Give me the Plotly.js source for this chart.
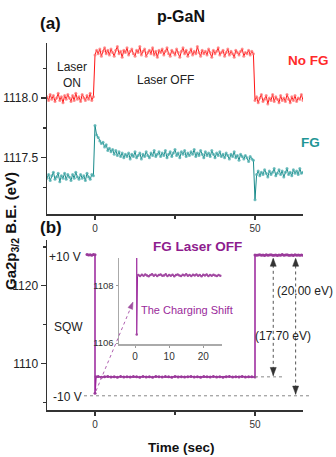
<!DOCTYPE html>
<html>
<head>
<meta charset="utf-8">
<script src="https://cdn.plot.ly/plotly-3.0.1.min.js"></script>
<style>html,body{margin:0;padding:0;background:#fff;}#chart{width:336px;height:457px;}</style>
</head>
<body>
<div id="chart"></div>
<script>
// ---------- data ----------
// Panel (a): sampling grid starts at -15 s, every 0.5 s
const sampleStartA = -15, sampleStepA = 0.5;

// No FG (red)
const redLaserOn = [1118.01,1117.98,1118.03,1117.99,1118.02,1117.97,1118.00,1118.04,1117.98,1118.01,
  1117.96,1118.02,1117.99,1118.03,1118.00,1117.97,1118.02,1117.98,1118.04,1117.99,
  1118.01,1117.97,1118.03,1118.00,1117.98,1118.02,1117.99,1118.04,1117.98,1118.01];
const redLaserOff = [1118.36,1118.40,1118.37,1118.41,1118.35,1118.39,1118.42,1118.37,1118.40,1118.36,
  1118.41,1118.38,1118.35,1118.40,1118.43,1118.37,1118.39,1118.34,1118.40,1118.38,
  1118.42,1118.36,1118.39,1118.41,1118.37,1118.35,1118.40,1118.38,1118.43,1118.36,
  1118.39,1118.41,1118.35,1118.38,1118.40,1118.37,1118.42,1118.36,1118.39,1118.34,
  1118.40,1118.38,1118.41,1118.36,1118.39,1118.42,1118.37,1118.35,1118.40,1118.38,
  1118.36,1118.41,1118.38,1118.34,1118.39,1118.42,1118.37,1118.40,1118.35,1118.38,
  1118.41,1118.36,1118.39,1118.37,1118.43,1118.38,1118.35,1118.40,1118.37,1118.39,
  1118.36,1118.41,1118.38,1118.34,1118.40,1118.37,1118.39,1118.42,1118.36,1118.38,
  1118.40,1118.35,1118.38,1118.41,1118.36,1118.39,1118.37,1118.34,1118.40,1118.38,
  1118.36,1118.39,1118.41,1118.35,1118.38,1118.37,1118.40,1118.36,1118.39,1118.37];
const redLaserOnAgain = [1117.98,1118.01,1117.96,1118.00,1118.03,1117.97,1117.99,1118.02,1117.95,1118.00,
  1117.98,1118.03,1117.97,1118.01,1117.99,1117.96,1118.02,1117.98,1118.00,1117.97,
  1118.03,1117.99,1117.96,1118.01,1117.98,1118.02,1117.97,1118.00,1117.99,1118.03,1117.98];

// FG (teal)
const tealLaserOn = [1117.33,1117.36,1117.31,1117.35,1117.38,1117.32,1117.34,1117.37,1117.30,1117.35,
  1117.33,1117.37,1117.32,1117.36,1117.34,1117.31,1117.36,1117.33,1117.38,1117.34,
  1117.32,1117.36,1117.33,1117.35,1117.31,1117.37,1117.34,1117.32,1117.36,1117.35];
const tealLaserOff = [1117.77,1117.69,1117.67,1117.64,1117.62,1117.63,1117.59,1117.61,1117.56,1117.58,
  1117.55,1117.57,1117.53,1117.56,1117.52,1117.55,1117.51,1117.54,1117.50,1117.53,
  1117.51,1117.54,1117.49,1117.53,1117.51,1117.55,1117.50,1117.52,1117.54,1117.49,
  1117.53,1117.51,1117.55,1117.52,1117.50,1117.54,1117.52,1117.56,1117.51,1117.53,
  1117.55,1117.51,1117.54,1117.52,1117.56,1117.50,1117.53,1117.55,1117.51,1117.54,
  1117.57,1117.52,1117.54,1117.50,1117.55,1117.53,1117.56,1117.51,1117.54,1117.52,
  1117.55,1117.53,1117.57,1117.51,1117.54,1117.52,1117.56,1117.53,1117.50,1117.55,
  1117.52,1117.54,1117.51,1117.56,1117.53,1117.50,1117.54,1117.52,1117.55,1117.51,
  1117.53,1117.50,1117.54,1117.52,1117.49,1117.53,1117.51,1117.55,1117.50,1117.52,
  1117.48,1117.53,1117.51,1117.49,1117.52,1117.50,1117.47,1117.51,1117.49,1117.48];
const tealLaserOnAgain = [1117.15,1117.36,1117.39,1117.35,1117.38,1117.36,1117.40,1117.37,1117.34,1117.39,
  1117.36,1117.38,1117.41,1117.35,1117.37,1117.40,1117.36,1117.39,1117.34,1117.38,
  1117.41,1117.36,1117.38,1117.35,1117.40,1117.37,1117.39,1117.36,1117.41,1117.37,1117.38];

// Panel (b): FG laser OFF with square wave (purple)
const purplePlusT = [-2.5,-2,-1.5,-1,-0.5,0];
const purplePlus = [1124.02,1123.97,1124.00,1123.95,1124.03,1123.99];
const purpleSwitchT = [0,0.3];
const purpleSwitch = [1106.15,1108.27];
const purpleMinusT = [1,2,3,4,5,6,7,8,9,10,11,12,13,14,15,16,17,18,19,20,21,22,23,24,25,
  26,27,28,29,30,31,32,33,34,35,36,37,38,39,40,41,42,43,44,45,46,47,48,49,50];
const purpleMinus = [1108.30,1108.22,1108.28,1108.33,1108.25,1108.29,1108.21,1108.31,1108.26,1108.28,
  1108.24,1108.32,1108.27,1108.23,1108.30,1108.26,1108.29,1108.22,1108.31,1108.27,
  1108.25,1108.30,1108.28,1108.23,1108.32,1108.26,1108.29,1108.24,1108.28,1108.31,
  1108.25,1108.27,1108.22,1108.30,1108.28,1108.24,1108.31,1108.26,1108.29,1108.23,
  1108.27,1108.32,1108.25,1108.28,1108.24,1108.30,1108.26,1108.29,1108.27,1108.26];
const purplePlusAgainStart = 50, purplePlusAgainStep = 0.5;
const purplePlusAgain = [1123.98,1123.92,1123.96,1124.01,1123.93,1123.97,1123.90,1123.99,1123.94,1123.96,
  1124.00,1123.92,1123.95,1123.98,1123.91,1123.97,1123.94,1124.02,1123.93,1123.96,
  1123.99,1123.92,1123.95,1123.97,1123.91,1124.00,1123.94,1123.96,1123.93,1123.98,1123.95];

// Inset: the charging shift
const insetSwitchT = [0.5,0.5,0.7];
const insetSwitch = [1124.0,1106.3,1108.36];
const insetStart = 1, insetStep = 0.5;
const insetVals = [1108.37,1108.34,1108.38,1108.35,1108.39,1108.36,1108.33,1108.37,1108.40,1108.35,
  1108.38,1108.34,1108.37,1108.39,1108.35,1108.36,1108.40,1108.34,1108.37,1108.35,
  1108.38,1108.33,1108.37,1108.39,1108.36,1108.34,1108.38,1108.36,1108.40,1108.35,
  1108.37,1108.34,1108.38,1108.36,1108.39,1108.35,1108.37,1108.33,1108.38,1108.36,
  1108.39,1108.34,1108.37,1108.35,1108.38,1108.36,1108.34,1108.37,1108.35];

// Tick labels / values
const xTicks = [0, 50];
const insetXTicks = [0, 10, 20];
const insetYTicks = [1106, 1108];
const panelBTicks = [1110, 1120];
const panelATicks = [1117.5, 1118.0];

// ---------- build ----------
const grid = (start, step, n) => Array.from({length: n}, (_, i) => +(start + step * i).toFixed(3));

const redY = redLaserOn.concat(redLaserOff, redLaserOnAgain);
const redT = grid(sampleStartA, sampleStepA, redY.length);
const tealY = tealLaserOn.concat(tealLaserOff, tealLaserOnAgain);
const tealT = grid(sampleStartA, sampleStepA, tealY.length);

const purpleT = purplePlusT.concat(purpleSwitchT, purpleMinusT, grid(purplePlusAgainStart, purplePlusAgainStep, purplePlusAgain.length));
const purpleY = purplePlus.concat(purpleSwitch, purpleMinus, purplePlusAgain);

const insetT = insetSwitchT.concat(grid(insetStart, insetStep, insetVals.length));
const insetY = insetSwitch.concat(insetVals);

const FONT = 'Liberation Sans, Arial, sans-serif';
const AX = '#333';
const W = 336, H = 457;
const px = v => v / W, py = v => (H - v) / H;

const traces = [
  {x: redT, y: redY, xaxis: 'x', yaxis: 'y', mode: 'lines+markers', hoverinfo: 'skip',
   line: {color: '#ff1414', width: 1}, marker: {size: 3, color: 'rgba(255,110,110,0.75)'}},
  {x: tealT, y: tealY, xaxis: 'x', yaxis: 'y', mode: 'lines+markers', hoverinfo: 'skip',
   line: {color: '#178a8a', width: 1}, marker: {size: 3, color: 'rgba(80,175,175,0.8)'}},
  {x: purpleT, y: purpleY, xaxis: 'x2', yaxis: 'y2', mode: 'lines+markers', hoverinfo: 'skip',
   line: {color: '#99229a', width: 1.5}, marker: {size: 3, color: '#9a3a9a'}},
  {x: insetT, y: insetY, xaxis: 'x3', yaxis: 'y3', mode: 'lines+markers', hoverinfo: 'skip',
   line: {color: '#99229a', width: 1.2}, marker: {size: 2.5, color: '#a24aa2'}}
];

const mainX = (anchor) => ({
  domain: [px(47), px(303)], range: [-15, 65], anchor: anchor,
  tickmode: 'array', tickvals: xTicks, ticktext: xTicks.map(String),
  ticks: 'outside', ticklen: 4, tickwidth: 1.2, tickcolor: AX,
  minor: {tickmode: 'array', tickvals: [25], ticks: 'outside', ticklen: 3, tickcolor: AX},
  showline: true, linecolor: AX, linewidth: 1.5, showgrid: false, zeroline: false,
  tickfont: {family: FONT, size: 10, color: '#333'}, fixedrange: true
});

const layout = {
  width: W, height: H, autosize: false,
  margin: {l: 0, r: 0, t: 0, b: 0, pad: 0},
  paper_bgcolor: '#fff', plot_bgcolor: 'rgba(0,0,0,0)',
  showlegend: false,
  font: {family: FONT, color: '#111'},
  xaxis: mainX('y'),
  yaxis: {
    domain: [py(214), py(43)], range: [1117.03, 1118.46], anchor: 'x',
    tickmode: 'array', tickvals: panelATicks, ticktext: panelATicks.map(v => v.toFixed(1)),
    ticks: 'outside', ticklen: 5, tickwidth: 1.2, tickcolor: AX,
    minor: {tickmode: 'array', tickvals: [1117.25, 1117.75, 1118.25], ticks: 'outside', ticklen: 3, tickcolor: AX},
    showline: true, linecolor: AX, linewidth: 1.5, showgrid: false, zeroline: false,
    tickfont: {family: FONT, size: 12, color: '#222'}, fixedrange: true
  },
  xaxis2: mainX('y2'),
  yaxis2: {
    domain: [py(410), py(240)], range: [1104, 1125.9], anchor: 'x2',
    tickmode: 'array', tickvals: panelBTicks, ticktext: panelBTicks.map(String),
    ticks: 'outside', ticklen: 5, tickwidth: 1.2, tickcolor: AX,
    minor: {tickmode: 'array', tickvals: [1105, 1115, 1125], ticks: 'outside', ticklen: 3, tickcolor: AX},
    showline: true, linecolor: AX, linewidth: 1.5, showgrid: false, zeroline: false,
    tickfont: {family: FONT, size: 12, color: '#222'}, fixedrange: true
  },
  xaxis3: {
    domain: [px(119), px(222)], range: [-4.7, 25.5], anchor: 'y3',
    tickmode: 'array', tickvals: insetXTicks, ticktext: insetXTicks.map(String),
    ticks: 'outside', ticklen: 2, tickcolor: '#999',
    showline: true, linecolor: '#aaa', linewidth: 1.5, showgrid: false, zeroline: false,
    tickfont: {family: FONT, size: 10, color: '#333'}, fixedrange: true
  },
  yaxis3: {
    domain: [py(344), py(258)], range: [1105.965, 1108.967], anchor: 'x3',
    tickmode: 'array', tickvals: insetYTicks, ticktext: insetYTicks.map(String),
    ticks: 'outside', ticklen: 2, tickcolor: '#999',
    showline: true, linecolor: '#aaa', linewidth: 1.5, showgrid: false, zeroline: false,
    tickfont: {family: FONT, size: 9.5, color: '#333'}, fixedrange: true
  },
  shapes: [
    // -10 V reference level (dotted)
    {type: 'line', xref: 'paper', yref: 'y2', x0: px(84), x1: px(312), y0: 1105.83, y1: 1105.83,
     line: {color: '#888', width: 1, dash: 'dot'}},
    // FG level continuation (dotted)
    {type: 'line', xref: 'x2', yref: 'y2', x0: 50, x1: 58.5, y0: 1108.27, y1: 1108.27,
     line: {color: '#888', width: 1, dash: 'dot'}},
    // vertical dotted measures
    {type: 'line', xref: 'x2', yref: 'y2', x0: 55.7, x1: 55.7, y0: 1108.4, y1: 1123.6,
     line: {color: '#555', width: 1, dash: 'dot'}},
    {type: 'line', xref: 'x2', yref: 'y2', x0: 62.7, x1: 62.7, y0: 1106.0, y1: 1123.6,
     line: {color: '#555', width: 1, dash: 'dot'}},
    // purple dotted pointer to inset
    {type: 'line', xref: 'paper', yref: 'paper', x0: px(96), y0: py(391), x1: px(131), y1: py(307),
     line: {color: '#b060b0', width: 1, dash: 'dot'}}
  ],
  annotations: []
};

// arrowheads as small pixel-sized triangles
const UP = 'M0,0 L-3,-8 L3,-8 Z', DOWN = 'M0,0 L-3,8 L3,8 Z';
const head = (xa, ya, path, xref, yref, color) => layout.shapes.push({
  type: 'path', xref: xref, yref: yref, xsizemode: 'pixel', ysizemode: 'pixel',
  xanchor: xa, yanchor: ya, path: path, fillcolor: color, line: {color: color, width: 0.5}
});
head(55.7, 1123.55, UP, 'x2', 'y2', '#333');
head(55.7, 1108.45, DOWN, 'x2', 'y2', '#333');
head(62.7, 1123.55, UP, 'x2', 'y2', '#333');
head(62.7, 1106.05, DOWN, 'x2', 'y2', '#333');
head(px(133), py(302), 'M0,0 L-0.4,-7.5 L-5,-5.5 Z', 'paper', 'paper', '#a050a0');

const A = layout.annotations;
const txt = (text, x, y, size, color, bold, extra) => A.push(Object.assign({
  text: bold ? '<b>' + text + '</b>' : text, xref: 'paper', yref: 'paper', x: px(x), y: py(y),
  xanchor: 'center', yanchor: 'middle', showarrow: false,
  font: {family: FONT, size: size, color: color}
}, extra || {}));

txt('(a)', 51, 24, 17, '#111', true);
txt('p-GaN', 181, 17, 16, '#111', true);
txt('Laser<br>ON', 72, 75, 12, '#222', false);
txt('Laser OFF', 165, 80, 12, '#222', false);
txt('No FG', 308, 60, 13.5, '#ff2a2a', true);
txt('FG', 310, 142, 13.5, '#1f9696', true);
txt('(b)', 51, 227, 17, '#111', true);
txt('FG Laser OFF', 197, 246, 13.5, '#8e1c8e', true);
txt('+10 V', 65, 257, 12, '#222', false);
txt('SQW', 68, 327, 12, '#222', false);
txt('-10 V', 67, 397, 12, '#222', false);
txt('The Charging Shift', 187, 310, 11, '#9a2a9a', false);
txt('(20.00 eV)', 305, 291, 12, '#222', false);
txt('(17.70 eV)', 283, 336, 12, '#222', false);
txt('Time (sec)', 181, 447, 13.5, '#111', true);
txt('Ga2p<sub>3/2</sub> B.E. (eV)', 12, 231, 15, '#111', true, {textangle: -90});

Plotly.newPlot('chart', traces, layout, {displayModeBar: false, staticPlot: true});
</script>
</body>
</html>
